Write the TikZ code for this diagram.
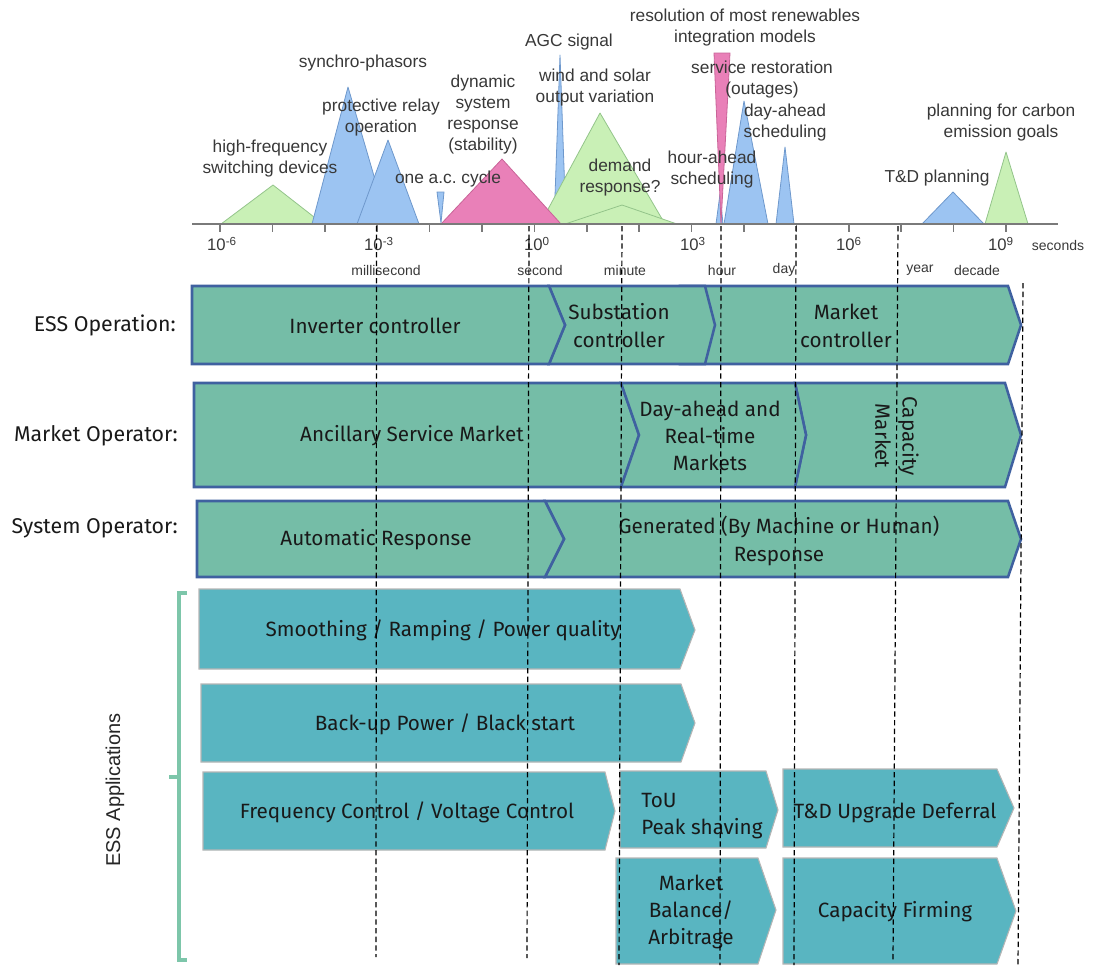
\documentclass[tikz,border=0pt]{standalone}
\usepackage{fontspec}
\setmainfont{Liberation Sans}
\newfontfamily\plexlike{Fira Sans}
\newfontfamily\arialike{Liberation Sans}

\definecolor{triG}{HTML}{C9F0B6}
\definecolor{triGd}{HTML}{93C48A}
\definecolor{triB}{HTML}{9CC4F2}
\definecolor{triBd}{HTML}{6E98CC}
\definecolor{triP}{HTML}{E980B8}
\definecolor{triPd}{HTML}{C96498}
\definecolor{axisgray}{HTML}{7A7A7A}
\definecolor{labgray}{HTML}{383838}
\definecolor{rowfill}{HTML}{75BDA7}
\definecolor{rowline}{HTML}{3F61A0}
\definecolor{appfill}{HTML}{59B5C1}
\definecolor{appline}{HTML}{B5B5B5}
\definecolor{bracecol}{HTML}{7DC6AA}

\newcommand\toplbl{\arialike\fontsize{13}{15.75}\selectfont}
\newcommand\ticklbl{\arialike\fontsize{12.5}{15}\selectfont}
\newcommand\unitlbl{\arialike\fontsize{10.5}{12}\selectfont}
\newcommand\boxfont{\plexlike\fontsize{15.5}{20.5}\selectfont}
\newcommand\rowlblfont{\plexlike\fontsize{16}{20.5}\selectfont}

\tikzset{
  gtri/.style={fill=triG, draw=triGd, line width=0.6pt, line join=round},
  btri/.style={fill=triB, draw=triBd, line width=0.6pt, line join=round},
  ptri/.style={fill=triP, draw=triPd, line width=0.6pt, line join=round},
  toptext/.style={font=\toplbl, text=labgray, align=center, inner sep=0pt},
  ticktext/.style={font=\ticklbl, text=labgray, inner sep=0pt},
  unittext/.style={font=\unitlbl, text=labgray, inner sep=0pt},
  rowshape/.style={fill=rowfill, draw=rowline, line width=1.9pt, line join=miter},
  appshape/.style={fill=appfill, draw=appline, line width=0.8pt, line join=miter},
  boxtext/.style={font=\boxfont, text=black!90, align=center, inner sep=0pt},
  rowlabel/.style={font=\rowlblfont, text=black!90, anchor=east, inner sep=0pt},
  guide/.style={draw=black, line width=0.9pt, dash pattern=on 4pt off 2.5pt},
}

\begin{document}
\begin{tikzpicture}[x=0.75pt, y=-0.75pt]
\useasboundingbox (0,0) rectangle (1095,965);

% ---------- time-scale triangles ----------
\path[gtri] (221,224) -- (273,185) -- (323,224) -- cycle;
\path[btri] (312,224) -- (348,87) -- (388,224) -- cycle;
\path[btri] (357,224) -- (388,140) -- (419,224) -- cycle;
\path[btri] (437,192) -- (444,192) -- (441,223) -- cycle;
\path[btri] (554,224) -- (560,55) -- (566,224) -- cycle;
\path[gtri] (540,224) -- (600,113) -- (665,224) -- cycle;
\path[gtri] (565,224) -- (622,205) -- (677,224) -- cycle;
\path[ptri] (441,224) -- (502,159) -- (561,224) -- cycle;
\path[btri] (716,224) -- (720,194) -- (723,224) -- cycle;
\path[btri] (724,224) -- (744,101) -- (768,224) -- cycle;
\path[ptri] (714,53) -- (730,53) -- (721,224) -- cycle;
\path[btri] (776,224) -- (785,147) -- (794,224) -- cycle;
\path[btri] (922,224) -- (953,192) -- (984,224) -- cycle;
\path[gtri] (985,224) -- (1006,152) -- (1028,224) -- cycle;

% ---------- axis and decade ticks ----------
\draw[axisgray, line width=1.5pt] (192,224) -- (1058,224);
\foreach \d in {0,...,15}
  \draw[axisgray, line width=1.1pt] ({220+52.4*\d},224) -- ({220+52.4*\d},232);

\node[ticktext] (tm6) at (222,244) {10\textsuperscript{-6}};
\node[ticktext] (tm3) at (379,244) {10\textsuperscript{-3}};
\node[ticktext] (t0)  at (537,244) {10\textsuperscript{0}};
\node[ticktext] (t3)  at (693,244) {10\textsuperscript{3}};
\node[ticktext] (t6)  at (849,244) {10\textsuperscript{6}};
\node[ticktext] (t9)  at (1001,244) {10\textsuperscript{9}};
\node[unittext] (tsec) at (1058,245) {seconds};

\node[unittext] (ums)  at (386,270) {millisecond};
\node[unittext] (us)   at (540,270) {second};
\node[unittext] (umin) at (625,270) {minute};
\node[unittext] (uhr)  at (722,270) {hour};
\node[unittext] (uday) at (784,270) {day};
\node[unittext] (uyr)  at (920,270) {year};
\node[unittext] (udec) at (977,270) {decade};

% ---------- time-scale labels ----------
\node[toptext] (hf)   at (270,158.5) {high-frequency\\switching devices};
\node[toptext] (syn)  at (363,63)    {synchro-phasors};
\node[toptext] (prot) at (381,117.5) {protective relay\\operation};
\node[toptext] (acc)  at (448,179)   {one a.c.\ cycle};
\node[toptext] (dyn)  at (483,115)   {dynamic\\system\\response\\(stability)};
\node[toptext] (agc)  at (569,42)    {AGC signal};
\node[toptext] (wind) at (595,87.5)  {wind and solar\\output variation};
\node[toptext] (dem)  at (620,177.5) {demand\\response?};
\node[toptext] (res)  at (745,27.5)  {resolution of most renewables\\integration models};
\node[toptext] (serv) at (762,79.5)  {service restoration\\(outages)};
\node[toptext] (dah)  at (785,122.5) {day-ahead\\scheduling};
\node[toptext] (hah)  at (712,169.5) {hour-ahead\\scheduling};
\node[toptext] (tdp)  at (937,178)   {T\&D planning};
\node[toptext] (carb) at (1001,122.5){planning for carbon\\emission goals};

% ---------- ESS operation row ----------
\path[rowshape] (680,286) -- (1008,286) -- (1021,325) -- (1008,364) -- (680,364) -- cycle;
\path[rowshape] (549,286) -- (705,286) -- (715,325) -- (705,364) -- (549,364) -- (565,325) -- cycle;
\path[rowshape] (192,286) -- (549,286) -- (565,325) -- (549,364) -- (192,364) -- cycle;
\node[rowlabel] (lbless) at (176,325) {ESS Operation:};
\node[boxtext] (inv) at (375,326) {Inverter controller};
\node[boxtext] (sub) at (619,325.5) {Substation\\controller};
\node[boxtext] (mkc) at (846,326) {Market\\controller};

% ---------- market operator row ----------
\path[rowshape] (194,383) -- (621,383) -- (639,435) -- (621,487) -- (194,487) -- cycle;
\path[rowshape] (795,383) -- (1005,383) -- (1021,435) -- (1005,487) -- (795,487) -- (806,435) -- cycle;
\path[rowshape] (621,383) -- (795,383) -- (806,435) -- (795,487) -- (621,487) -- (639,435) -- cycle;
\node[rowlabel] (lblmo) at (178,436) {Market Operator:};
\node[boxtext] (anc) at (412,436) {Ancillary Service Market};
\node[boxtext] (dar) at (710,436) {Day-ahead and\\Real-time\\Markets};
\node[boxtext, rotate=-90] (cap) at (897,436) {Capacity\\Market};

% ---------- system operator row ----------
\path[rowshape] (545,501) -- (1008,501) -- (1021,539) -- (1008,577) -- (545,577) -- (564,539) -- cycle;
\path[rowshape] (197,501) -- (545,501) -- (564,539) -- (545,577) -- (197,577) -- cycle;
\node[rowlabel] (lblso) at (178,528) {System Operator:};
\node[boxtext] (auto) at (376,540) {Automatic Response};
\node[boxtext] (gen) at (779,541) {Generated (By Machine or Human)\\Response};

% ---------- ESS applications ----------
\draw[bracecol, line width=3pt] (187,593) -- (178.5,593) -- (178.5,960) -- (187,960);
\draw[bracecol, line width=3pt] (178.5,777) -- (169,777);
\node[font=\arialike\fontsize{15}{18}\selectfont, text=black!85, rotate=90, inner sep=0pt] (essapp) at (115,790) {ESS Applications};

\path[appshape] (199,589) -- (680,589) -- (695,630) -- (680,669) -- (199,669) -- cycle;
\node[boxtext] (smo) at (443,630) {Smoothing / Ramping / Power quality};

\path[appshape] (201,684) -- (681,684) -- (695,723) -- (681,762) -- (201,762) -- cycle;
\node[boxtext] (bup) at (445,724) {Back-up Power / Black start};

\path[appshape] (203,772) -- (605,772) -- (615,811) -- (605,850) -- (203,850) -- cycle;
\node[boxtext] (fvc) at (407,812) {Frequency Control / Voltage Control};

\path[appshape] (620,771) -- (766,771) -- (778,810) -- (766,848) -- (620,848) -- cycle;
\node[boxtext, align=left, anchor=west] (tou) at (641,816) {ToU\\Peak shaving};

\path[appshape] (783,769) -- (997,769) -- (1014,808) -- (997,847) -- (783,847) -- cycle;
\node[boxtext] (tdu) at (895,813) {T\&D Upgrade Deferral};

\path[appshape] (616,858) -- (758,858) -- (776,910) -- (758,964) -- (616,964) -- cycle;
\node[boxtext] (mba) at (691,912) {Market\\Balance/\\Arbitrage};

\path[appshape] (783,858) -- (997,858) -- (1016,911) -- (997,964) -- (783,964) -- cycle;
\node[boxtext] (cfi) at (895,912) {Capacity Firming};

% ---------- time guides ----------
\coordinate (gmsT) at (376.5,226);  \coordinate (gmsB) at (376,957);
\coordinate (gsT)  at (529,226);    \coordinate (gsB)  at (527,958);
\coordinate (gminT) at (622,226);   \coordinate (gminB) at (619,965);
\coordinate (ghrT) at (721,226);    \coordinate (ghrB) at (720,965);
\coordinate (gdayT) at (796,226);   \coordinate (gdayB) at (794,965);
\coordinate (gyrT) at (898,226);    \coordinate (gyrB) at (893,960);
\coordinate (gendT) at (1023,283);  \coordinate (gendB) at (1018,965);
\foreach \g in {gms,gs,gmin,ghr,gday,gyr,gend}
  \draw[guide] (\g T) -- (\g B);

\end{tikzpicture}
\end{document}
